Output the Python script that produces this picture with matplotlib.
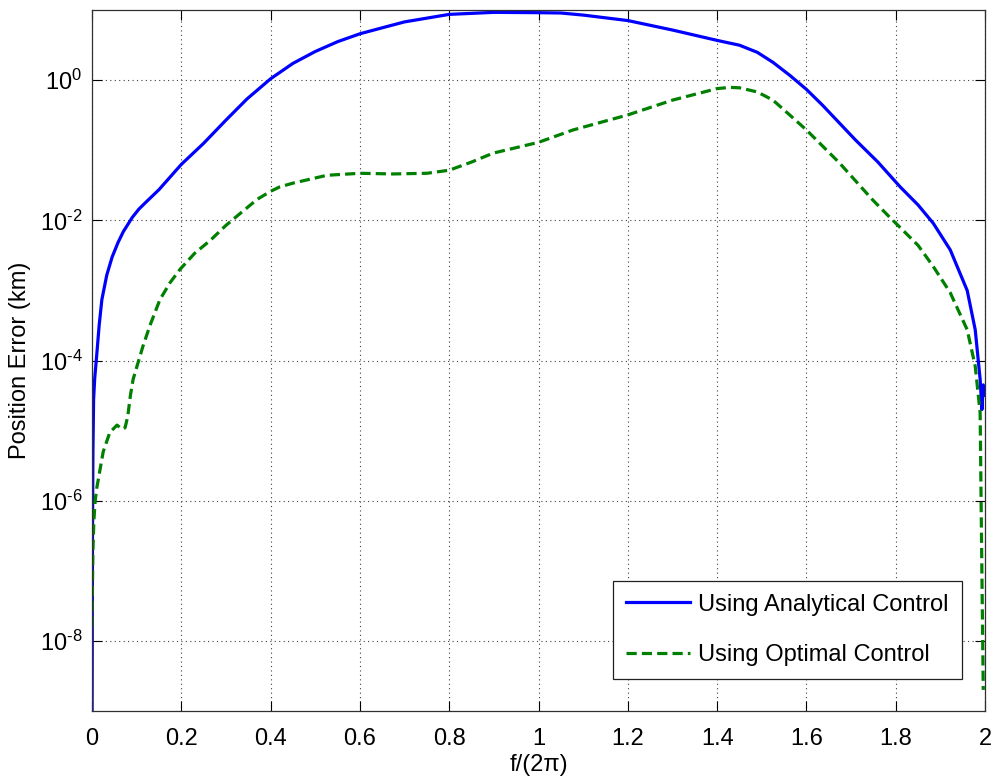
import matplotlib
matplotlib.use("Agg")
import matplotlib.pyplot as plt
from matplotlib.ticker import NullLocator

plt.rcParams['font.family'] = ['Liberation Sans', 'DejaVu Sans']
plt.rcParams['mathtext.fontset'] = 'custom'
plt.rcParams['mathtext.rm'] = 'Liberation Sans'
plt.rcParams['mathtext.it'] = 'Liberation Sans:italic'

# values
blue_x = [0.0, 0.001, 0.002, 0.0035, 0.006, 0.010, 0.016, 0.022, 0.033, 0.045,
          0.058, 0.07, 0.09, 0.105, 0.12, 0.15, 0.2, 0.25, 0.3, 0.347,
          0.4, 0.45, 0.5, 0.55, 0.6, 0.65, 0.7, 0.8, 0.9, 1.0,
          1.05, 1.1, 1.2, 1.3, 1.4, 1.45, 1.49, 1.525, 1.563, 1.6,
          1.636, 1.67, 1.71, 1.76, 1.81, 1.85, 1.884, 1.922, 1.96, 1.978,
          1.989, 1.993, 1.996, 2.0]
blue_y = [3.2e-10, 3.2e-7, 5e-6, 2.8e-5, 5.6e-5, 1.1e-4, 3.2e-4, 7.4e-4, 1.66e-3, 3.0e-3,
          4.8e-3, 6.9e-3, 0.011, 0.0145, 0.018, 0.0275, 0.063, 0.126, 0.27, 0.54,
          1.05, 1.74, 2.57, 3.55, 4.6, 5.6, 6.8, 8.7, 9.3, 9.2,
          9.1, 8.5, 7.1, 5.2, 3.7, 3.16, 2.5, 1.8, 1.17, 0.74,
          0.44, 0.26, 0.14, 0.068, 0.03, 0.0166, 9.1e-3, 3.8e-3, 1.0e-3, 2.75e-4,
          5.4e-5, 2e-5, 4.5e-5, 3.2e-5]

green_x = [0.0, 0.001, 0.002, 0.004, 0.007, 0.0105, 0.018, 0.025, 0.04, 0.047,
           0.056, 0.063, 0.068, 0.074, 0.08, 0.086, 0.092, 0.114, 0.13, 0.152,
           0.175, 0.197, 0.23, 0.265, 0.3, 0.332, 0.37, 0.4, 0.42, 0.45,
           0.526, 0.6, 0.674, 0.75, 0.8, 0.85, 0.898, 1.0, 1.077, 1.2,
           1.3, 1.4, 1.429, 1.45, 1.49, 1.525, 1.56, 1.6, 1.674, 1.747,
           1.787, 1.81, 1.85, 1.884, 1.922, 1.96, 1.978, 1.989, 1.992, 1.996]
green_y = [1.6e-8, 6.3e-8, 2e-7, 5e-7, 1e-6, 1.5e-6, 2.8e-6, 5e-6, 9.5e-6, 1.05e-5,
           1.2e-5, 1.1e-5, 1.05e-5, 1.1e-5, 1.6e-5, 3.2e-5, 5.4e-5, 1.6e-4, 3.2e-4, 7.4e-4,
           1.3e-3, 2e-3, 3.4e-3, 5.2e-3, 8.5e-3, 0.0126, 0.02, 0.026, 0.03, 0.034,
           0.044, 0.047, 0.046, 0.047, 0.052, 0.068, 0.091, 0.13, 0.195, 0.32,
           0.52, 0.76, 0.79, 0.78, 0.68, 0.52, 0.33, 0.195, 0.066, 0.02,
           0.011, 7.9e-3, 4.4e-3, 2.2e-3, 9.3e-4, 2.75e-4, 8.3e-5, 1.8e-5, 3.2e-7, 2e-9]

labels = ["Using Analytical Control", "Using Optimal Control"]
x_ticks = [0, 0.2, 0.4, 0.6, 0.8, 1, 1.2, 1.4, 1.6, 1.8, 2]
x_tick_labels = ["0", "0.2", "0.4", "0.6", "0.8", "1", "1.2", "1.4", "1.6", "1.8", "2"]
y_ticks = [1e-8, 1e-6, 1e-4, 1e-2, 1e0]
y_tick_labels = [r"$\mathregular{10^{\text{-}8}}$", r"$\mathregular{10^{\text{-}6}}$",
                 r"$\mathregular{10^{\text{-}4}}$", r"$\mathregular{10^{\text{-}2}}$",
                 r"$\mathregular{10^{0}}$"]

fig = plt.figure(figsize=(9.95, 7.8), dpi=100)
ax = fig.add_axes([0.0925, 0.0885, 0.8975, 0.8985])

ax.plot(blue_x, blue_y, color="#0000ff", lw=2.3, label=labels[0])
ax.plot(green_x, green_y, color="#008000", lw=2.3, ls=(0, (3.2, 1.6)), label=labels[1])

ax.set_yscale("log")
ax.set_xlim(0, 2)
ax.set_ylim(1e-9, 1e1)
ax.set_xticks(x_ticks)
ax.set_xticklabels(x_tick_labels)
ax.set_yticks(y_ticks)
ax.set_yticklabels(y_tick_labels)
ax.yaxis.set_minor_locator(NullLocator())

ax.tick_params(direction="in", length=7, width=0.8, labelsize=17,
               top=True, right=True, pad=7)
ax.tick_params(axis="x", pad=12)
ax.grid(True, which="major", ls=(0, (1, 3)), color="#404040", lw=0.8)
for s in ax.spines.values():
    s.set_color("#303030")
    s.set_linewidth(0.9)

ax.set_xlabel("f/(2\u03c0)", fontsize=17, labelpad=3)
ax.set_ylabel("Position Error (km)", fontsize=17, labelpad=6)

leg = ax.legend(loc="lower right", bbox_to_anchor=(0.974, 0.0456),
                fontsize=17, frameon=True, fancybox=False, shadow=False,
                handlelength=2.7, labelspacing=1.2, borderpad=0.55,
                handletextpad=0.35, borderaxespad=0)
leg.get_frame().set_edgecolor("#202020")
leg.get_frame().set_linewidth(0.9)
leg.get_frame().set_alpha(1)

fig.savefig("out.png", dpi=100)
